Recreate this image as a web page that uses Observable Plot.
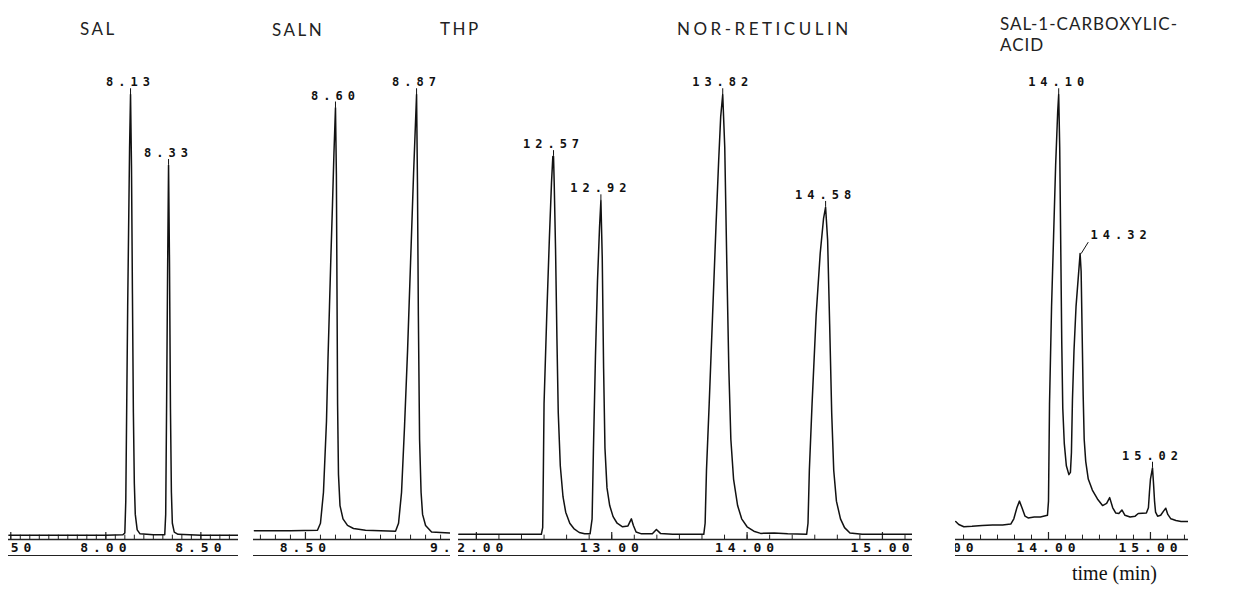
<!DOCTYPE html>
<html><head><meta charset="utf-8">
<script src="https://cdn.jsdelivr.net/npm/d3@7"></script>
<script src="https://cdn.jsdelivr.net/npm/@observablehq/plot@0.6"></script>
<style>
body{margin:0;background:#fff;}
#wrap{position:relative;width:1234px;height:592px;overflow:hidden;background:#fff;}
.t{position:absolute;font-family:Lato,"Open Sans",sans-serif;font-size:17px;color:#222;letter-spacing:2.5px;white-space:nowrap;line-height:1;}
.p{position:absolute;top:75px;}
.xl{position:absolute;font-family:"Liberation Serif",serif;font-size:20px;color:#111;white-space:nowrap;line-height:1;}
</style></head><body><div id="wrap"></div>
<script>
// ---- data: [time (min), signal (% of full scale)] ----
const salTrace = [[7.49,0.3],[7.80,0.3],[8.00,0.3],[8.09,0.4],[8.10,0.8],[8.105,8],[8.11,30],[8.115,52],[8.12,70],[8.125,88],[8.13,100],[8.135,84],[8.14,55],[8.145,28],[8.15,12],[8.155,5],[8.165,1.5],[8.18,0.6],[8.25,0.4],[8.31,0.4],[8.315,5],[8.32,31],[8.325,60],[8.33,84],[8.335,62],[8.34,29],[8.345,10],[8.35,3],[8.36,1],[8.38,0.5],[8.50,0.3],[8.70,0.3]];
const salnTrace = [[8.33,1.3],[8.45,1.3],[8.54,1.4],[8.55,3],[8.56,10],[8.57,26],[8.575,40],[8.58,52],[8.585,64],[8.59,75],[8.595,87],[8.60,97],[8.603,82],[8.605,56],[8.607,30],[8.61,14],[8.615,7],[8.625,4],[8.64,2.5],[8.66,1.8],[8.70,1.4],[8.80,1.2],[8.81,3],[8.82,10],[8.83,25],[8.84,42],[8.85,62],[8.86,82],[8.87,100],[8.873,80],[8.876,50],[8.88,22],[8.885,10],[8.89,5],[8.90,2.5],[8.92,1],[8.98,0.8]];
const thpTrace = [[11.87,0.5],[12.2,0.5],[12.48,0.5],[12.49,2],[12.495,15],[12.50,30],[12.52,50],[12.54,68],[12.555,80],[12.565,86],[12.57,86],[12.575,80],[12.585,65],[12.595,45],[12.605,28],[12.62,16],[12.64,9],[12.66,5.5],[12.69,3],[12.72,1.8],[12.76,0.9],[12.80,0.6],[12.84,0.6],[12.855,4],[12.865,20],[12.88,41],[12.895,58],[12.91,70],[12.92,76],[12.93,63],[12.94,38],[12.95,20],[12.965,11],[12.985,7],[13.01,4.5],[13.04,3],[13.08,2.2],[13.12,2.4],[13.145,4],[13.16,2.5],[13.18,1],[13.22,0.6],[13.30,0.6],[13.33,1.6],[13.36,0.7],[13.45,0.5],[13.68,0.5],[13.69,3],[13.70,15],[13.72,30],[13.745,50],[13.77,70],[13.79,85],[13.805,95],[13.82,100],[13.835,88],[13.85,62],[13.865,38],[13.88,22],[13.90,13],[13.93,7],[13.96,4],[14.00,2.2],[14.05,1.2],[14.10,0.7],[14.20,0.8],[14.30,0.6],[14.44,0.5],[14.45,3],[14.46,15],[14.48,30],[14.51,50],[14.54,64],[14.565,72],[14.58,74.5],[14.595,67],[14.61,48],[14.625,28],[14.64,15],[14.66,8],[14.69,4],[14.72,2],[14.76,0.8],[14.85,0.5],[15.22,0.5]];
const carbTrace = [[13.09,3.4],[13.12,2.7],[13.17,2.2],[13.25,2.3],[13.35,2.5],[13.45,2.6],[13.55,2.6],[13.63,2.8],[13.66,4],[13.69,6.5],[13.715,8],[13.74,6.5],[13.77,4.6],[13.80,4.2],[13.86,4.4],[13.92,4.4],[13.99,4.8],[14.00,8],[14.01,30],[14.03,52],[14.05,68],[14.07,84],[14.09,96],[14.10,100],[14.11,88],[14.12,66],[14.13,44],[14.14,29],[14.155,21],[14.175,16],[14.20,14],[14.215,14.5],[14.225,19],[14.235,31],[14.25,42],[14.27,52],[14.29,58],[14.31,64],[14.32,60],[14.33,46],[14.34,32],[14.35,22],[14.365,17],[14.39,13],[14.43,10.5],[14.48,8.5],[14.53,7],[14.57,7.5],[14.60,8.8],[14.63,6.5],[14.66,5.3],[14.69,5.2],[14.72,6],[14.75,4.8],[14.80,4.4],[14.85,4.6],[14.88,5.2],[14.96,5.3],[14.98,6.5],[14.99,10],[15.00,13],[15.02,15.5],[15.03,12],[15.04,8],[15.05,5.5],[15.07,4.6],[15.10,4.8],[15.13,5.8],[15.15,6.4],[15.17,5],[15.20,4],[15.25,3.6],[15.30,3.4],[15.37,3.4]];

// labelled peaks: retention time and apex height
const salPeakTimes = [8.13, 8.33],                 salPeakHeights = [100, 84];
const salnPeakTimes = [8.60, 8.87],                salnPeakHeights = [97, 100];
const thpPeakTimes = [12.57, 12.92, 13.82, 14.58], thpPeakHeights = [86, 76, 100, 74.5];
const carbPeakTimes = [14.10, 14.32, 15.02],       carbPeakHeights = [100, 64, 15.5];

// axis tick labels (min)
const salTicks = [7.5, 8.0, 8.5];
const salnTicks = [8.5, 9.0];
const thpTicks = [12, 13, 14, 15];
const carbTicks = [13, 14, 15];

const titles = ["SAL", "SALN", "THP", "NOR-RETICULIN", "SAL-1-CARBOXYLIC-", "ACID"];
const xLabel = "time (min)";

// ---- layout ----
const wrap = document.getElementById("wrap");
const fmt = d3.format(".2f");
const Y = [-0.68, 104.3];
const toPeaks = (ts, vs) => ts.map((t, i) => ({t, v: vs[i]}));

const panels = [
  {trace: salTrace,  peaks: toPeaks(salPeakTimes, salPeakHeights),   ticks: salTicks,  domain: [7.488, 8.698],  left: 8,   width: 230, minor: 0.05},
  {trace: salnTrace, peaks: toPeaks(salnPeakTimes, salnPeakHeights), ticks: salnTicks, domain: [8.327, 8.983],  left: 253, width: 197, minor: 0.05},
  {trace: thpTrace,  peaks: toPeaks(thpPeakTimes, thpPeakHeights),   ticks: thpTicks,  domain: [11.868, 15.222],left: 458, width: 454, minor: 1 / 6},
  {trace: carbTrace, peaks: toPeaks(carbPeakTimes, carbPeakHeights), ticks: carbTicks, domain: [13.088, 15.373],left: 955, width: 233, minor: 1 / 6, side: 14.32}
];

for (const p of panels) {
  const trace = p.trace.map(([t, v]) => ({t, v}));
  const minor = d3.range(Math.ceil(p.domain[0] / p.minor - 1e-9), p.domain[1] / p.minor).map(i => i * p.minor);
  const normal = p.peaks.filter(d => d.t !== p.side);
  const side = p.peaks.filter(d => d.t === p.side);
  const svg = Plot.plot({
    width: p.width, height: 490,
    marginLeft: 0, marginRight: 0, marginTop: 0, marginBottom: 26,
    x: {domain: p.domain, axis: null},
    y: {domain: Y, axis: null},
    style: {fontFamily: "'DejaVu Sans Mono', monospace", fontSize: "13px", fontWeight: "bold", letterSpacing: "5px", overflow: "hidden", background: "transparent", color: "#111"},
    marks: [
      Plot.ruleY([Y[0]], {stroke: "#222", strokeWidth: 1.4}),
      Plot.ruleX(minor, {x: d => d, y1: Y[0], y2: 0.3, stroke: "#222", strokeWidth: 1}),
      Plot.ruleX(p.ticks, {x: d => d, y1: Y[0], y2: 0.9, stroke: "#222", strokeWidth: 1.2}),
      Plot.axisX(p.ticks, {tickSize: 0, tickPadding: 3, tickFormat: fmt, label: null}),
      Plot.ruleY([Y[0]], {dy: 16, stroke: "#222", strokeWidth: 1.2}),
      Plot.line(trace, {x: "t", y: "v", stroke: "#111", strokeWidth: 1.5}),
      Plot.ruleX(normal, {x: "t", y1: "v", y2: d => d.v + 1.3, stroke: "#111"}),
      Plot.text(normal, {x: "t", y: "v", text: d => fmt(d.t), dy: -12, fontSize: 12, letterSpacing: "4px"}),
      Plot.link(side, {x1: "t", y1: "v", x2: d => d.t + 0.07, y2: d => d.v + 2.6, stroke: "#111"}),
      Plot.text(side, {x: "t", y: "v", text: d => fmt(d.t), dx: 40, dy: -18, fontSize: 12})
    ]
  });
  const div = document.createElement("div");
  div.className = "p";
  div.style.left = p.left + "px";
  div.appendChild(svg);
  wrap.appendChild(div);
}

const titleStyle = [[80, 20, 2.5], [272, 21, 2.5], [440, 20, 2.5], [677, 20, 3.5], [1000, 15, 1.0], [1000, 36, 1.0]];
titles.forEach((s, i) => {
  const d = document.createElement("div");
  d.className = "t";
  d.textContent = s;
  d.style.left = titleStyle[i][0] + "px";
  d.style.top = titleStyle[i][1] + "px";
  d.style.letterSpacing = titleStyle[i][2] + "px";
  wrap.appendChild(d);
});
const xl = document.createElement("div");
xl.className = "xl";
xl.textContent = xLabel;
xl.style.left = "1072px";
xl.style.top = "563px";
wrap.appendChild(xl);
</script>
</body></html>
